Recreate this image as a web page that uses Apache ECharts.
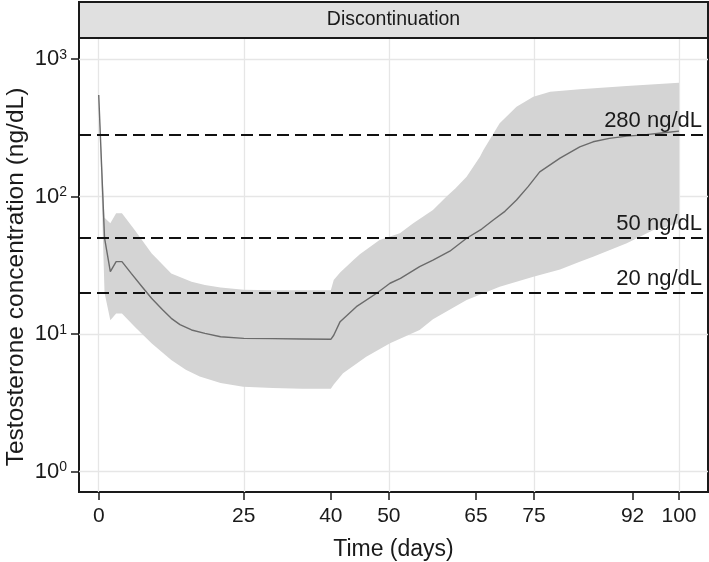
<!DOCTYPE html>
<html><head><meta charset="utf-8">
<script src="https://cdn.jsdelivr.net/npm/echarts@6/dist/echarts.min.js"></script>
<style>html,body{margin:0;padding:0;background:#fff}#c{width:709px;height:562px}</style>
</head><body><div id="c"></div>
<script>
const panelTitle = 'Discontinuation';
const xTitle = 'Time (days)';
const yTitle = 'Testosterone concentration (ng/dL)';
const xTicks = [0, 25, 40, 50, 65, 75, 92, 100];
const xGrid = [0, 25, 50, 75, 100];
const yTicks = [1, 10, 100, 1000];
const thresholds = [280, 50, 20];
const thresholdLabels = ['280 ng/dL', '50 ng/dL', '20 ng/dL'];

const medianDays   = [0, 1, 2, 3, 4, 5.6, 7.5, 9.1, 11, 12.5, 14, 16, 18.3, 21, 25, 30, 35, 40, 40.5, 41.6, 44.4, 47.9, 50.2, 52, 55.3, 57.6, 60.5, 63.4, 66, 68, 70, 72, 74, 76, 79.5, 82.9, 85.2, 88, 91, 94, 97, 100];
const medianValues = [547, 50, 28.4, 33.6, 33.6, 27.6, 22, 18.2, 15, 13.0, 11.7, 10.7, 10.1, 9.55, 9.3, 9.25, 9.2, 9.15, 9.8, 12.3, 15.8, 19.8, 23.4, 25.4, 30.9, 34.5, 40, 49.7, 58, 67.5, 78, 94.3, 118, 151, 190, 230, 250, 265, 275, 281, 290, 299];

const upperDays   = [0, 1, 2, 3, 4, 6.2, 9.1, 12.5, 16, 18.3, 21, 25, 30, 35, 40, 40.5, 41.6, 43.9, 45, 48.4, 51.9, 54.2, 57.6, 59.9, 61.5, 63.4, 65.7, 66.3, 69.1, 72, 74.9, 77.8, 82.9, 91, 100];
const upperValues = [547, 70, 64, 75.5, 75.5, 57, 38.6, 27.6, 24, 22.7, 21.8, 21, 20.8, 20.8, 20.8, 24.7, 28, 34.5, 38, 48.3, 54, 63.9, 79.8, 99.7, 115, 139, 195, 218, 341, 450, 532, 578, 602, 636, 673];

const lowerDays   = [0, 1, 2, 3, 4, 6.2, 9.1, 12.5, 15, 17.4, 21, 24.9, 30, 35, 40, 40.5, 42.1, 46.1, 50.2, 55.3, 57.6, 63.4, 69.1, 74.9, 79.5, 82.9, 85.2, 91, 95.6, 100];
const lowerValues = [547, 20, 12.6, 14.1, 14.1, 11.3, 8.55, 6.47, 5.5, 4.9, 4.4, 4.14, 4.05, 4.0, 4.0, 4.3, 5.18, 6.84, 8.55, 10.7, 12.8, 17.7, 22.1, 26.1, 29.5, 33.6, 36.5, 45.7, 57, 63.9];

const FONT = 'Liberation Sans, Arial, Helvetica, sans-serif';
const chart = echarts.init(document.getElementById('c'), null, {renderer: 'canvas'});

const option = {
  animation: false,
  backgroundColor: '#ffffff',
  grid: {left: 79, right: 1, top: 38, bottom: 70, show: true, borderColor: '#1a1a1a', borderWidth: 2, backgroundColor: 'transparent', containLabel: false, outerBoundsMode: 'none'},
  xAxis: {
    type: 'value', min: -3.4, max: 105,
    name: xTitle, nameLocation: 'middle', nameGap: 46, nameMoveOverlap: false,
    nameTextStyle: {fontFamily: FONT, fontSize: 23, color: '#1a1a1a'},
    axisLine: {show: true, onZero: false, lineStyle: {color: '#1a1a1a', width: 2}},
    axisTick: {show: true, length: 8, customValues: xTicks, lineStyle: {color: '#1a1a1a', width: 1.5}},
    axisLabel: {customValues: xTicks, margin: 14, fontFamily: FONT, fontSize: 21, color: '#1a1a1a'},
    splitLine: {show: false}
  },
  yAxis: {
    type: 'log', logBase: 10, min: 0.7096, max: 1422,
    name: yTitle, nameLocation: 'middle', nameGap: 50, nameMoveOverlap: false,
    nameTextStyle: {fontFamily: FONT, fontSize: 24.5, color: '#1a1a1a', padding: [0, 24, 0, 0]},
    axisLine: {show: true, onZero: false, lineStyle: {color: '#1a1a1a', width: 2}},
    axisTick: {show: true, length: 8, customValues: yTicks, lineStyle: {color: '#1a1a1a', width: 1.5}},
    axisLabel: {
      customValues: yTicks, margin: 12,
      formatter: function (v) { return '{b|10}{s|' + Math.round(Math.log10(v)) + '}'; },
      rich: {
        b: {fontFamily: FONT, fontSize: 22, lineHeight: 22, color: '#1a1a1a'},
        s: {fontFamily: FONT, fontSize: 14, lineHeight: 14, verticalAlign: 'top', color: '#1a1a1a'}
      }
    },
    splitLine: {show: false}
  },
  graphic: [
    {type: 'rect', z: 100, shape: {x: 79, y: 2, width: 629, height: 36}, style: {fill: '#e0e0e0', stroke: '#1a1a1a', lineWidth: 2}},
    {type: 'text', z: 101, x: 393.5, y: 20, style: {text: panelTitle, fontFamily: FONT, fontSize: 19.5, fill: '#1a1a1a', align: 'center', verticalAlign: 'middle', textAlign: 'center', textVerticalAlign: 'middle'}}
  ],
  series: [
    {
      type: 'line', data: [], z: 1, silent: true,
      markLine: {
        z: 1, silent: true, symbol: 'none', label: {show: false},
        lineStyle: {color: '#e6e6e6', width: 1.3, type: 'solid'},
        data: xGrid.map(v => ({xAxis: v})).concat(yTicks.map(v => ({yAxis: v})))
      }
    },
    {
      type: 'custom', z: 2, silent: true,
      data: [[upperDays[0], upperValues[0]]],
      renderItem: function (params, api) {
        const pts = [];
        for (let i = 0; i < upperDays.length; i++) pts.push(api.coord([upperDays[i], upperValues[i]]));
        for (let i = lowerDays.length - 1; i >= 0; i--) pts.push(api.coord([lowerDays[i], lowerValues[i]]));
        return {type: 'polygon', shape: {points: pts}, style: {fill: '#d4d4d4', stroke: null}};
      }
    },
    {
      type: 'line', z: 3, silent: true, showSymbol: false, symbol: 'none',
      data: medianDays.map((d, i) => [d, medianValues[i]]),
      lineStyle: {color: '#6b6b6b', width: 1.4},
      markLine: {
        z: 5, silent: true, symbol: 'none',
        lineStyle: {color: '#111', width: 2, type: [12, 6]},
        label: {show: true, position: 'insideEndTop', distance: [6, 3], fontFamily: FONT, fontSize: 22, color: '#1a1a1a'},
        data: thresholds.map((v, i) => ({yAxis: v, label: {formatter: thresholdLabels[i]}}))
      }
    }
  ]
};
chart.setOption(option);
</script></body></html>
